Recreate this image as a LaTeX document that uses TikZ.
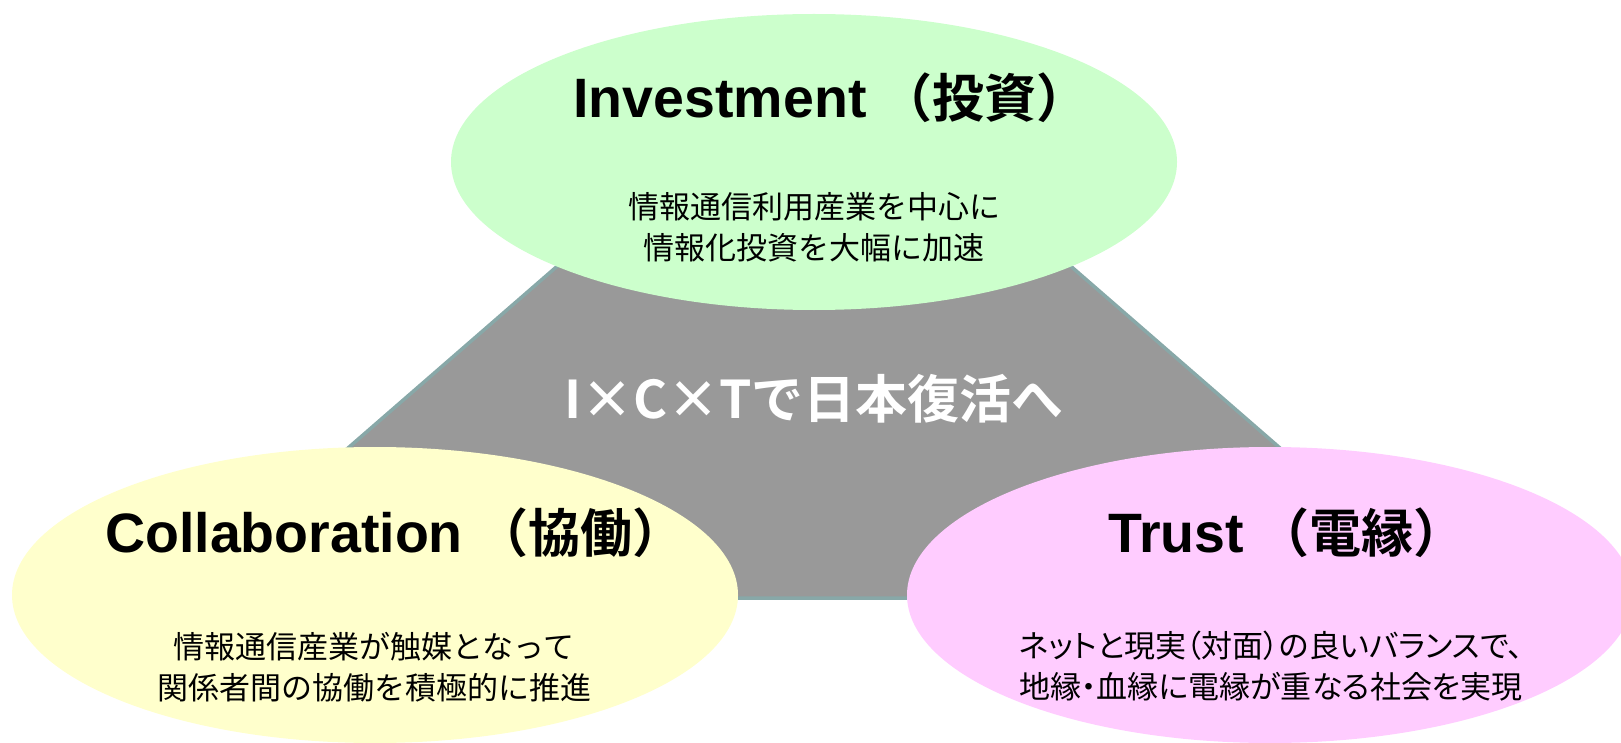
\documentclass[tikz,border=0pt]{standalone}
\usepackage{fontspec}
\usetikzlibrary{shapes.geometric}
\setmainfont{Liberation Sans}
\newfontfamily\jp{Noto Sans CJK JP}[BoldFont={Noto Sans CJK JP Bold}]
\newfontfamily\jpp{Noto Sans CJK JP}[RawFeature=+palt]
\newcommand{\jpparen}[1]{\hspace{14pt}{\jp\fontsize{52}{58}\selectfont #1}}
\definecolor{greenfill}{HTML}{CCFFCC}
\definecolor{yellowfill}{HTML}{FFFFCC}
\definecolor{pinkfill}{HTML}{FFCCFF}
\definecolor{trifill}{HTML}{999999}
\definecolor{triedge}{HTML}{88A8A8}
\tikzset{
  bubble/.style={ellipse, minimum width=726pt, minimum height=296pt, inner sep=0pt, draw=none},
  titletext/.style={inner sep=0pt, font=\fontsize{55.5}{60}\selectfont\bfseries},
  subtext/.style={inner sep=0pt, align=center, font=\jp\fontsize{31}{41}\selectfont},
  centertext/.style={inner sep=0pt, text=white, font=\jp\fontsize{52}{58}\selectfont\bfseries}
}
\begin{document}
\begin{tikzpicture}[x=1pt,y=-1pt]
\useasboundingbox (0,0) rectangle (1621,743);
\clip (0,0) rectangle (1621,743);
\coordinate (apex) at (814,43);
\coordinate (bl) at (175.5,598);
\coordinate (br) at (1452.5,598);
\draw[fill=trifill, draw=triedge, line width=3.5pt, line join=miter] (apex) -- (bl) -- (br) -- cycle;
\node[centertext] (ict) at (814,399) {I×C×Tで日本復活へ};
\node[bubble, fill=greenfill] (inv) at (814,162) {};
\node[bubble, fill=yellowfill] (col) at (375,595) {};
\node[bubble, fill=pinkfill] (tru) at (1270,595) {};
\node[titletext] (invT) at (831,98) {Investment\jpparen{（投資）}};
\node[subtext] (invS) at (814,227) {情報通信利用産業を中心に\\情報化投資を大幅に加速};
\node[titletext] (colT) at (395,533) {Collaboration\jpparen{（協働）}};
\node[subtext] (colS) at (374,667) {情報通信産業が触媒となって\\関係者間の協働を積極的に推進};
\node[titletext] (truT) at (1287,533) {Trust\jpparen{（電縁）}};
\node[subtext, font=\jpp\fontsize{31}{41}\selectfont] (truS) at (1271,666) {ネットと現実（対面）の良いバランスで、\\地縁・血縁に電縁が重なる社会を実現};
\end{tikzpicture}
\end{document}
